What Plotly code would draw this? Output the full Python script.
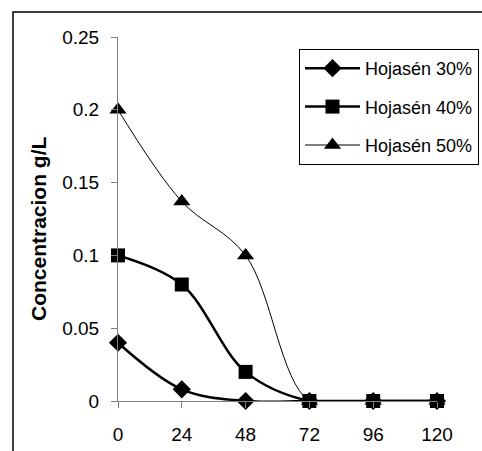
import plotly.graph_objects as go

hours = [0, 24, 48, 72, 96, 120]
hoj30 = [0.04, 0.008, 0.0, 0.0, 0.0, 0.0]
hoj40 = [0.1, 0.08, 0.02, 0.0, 0.0, 0.0]
hoj50 = [0.2, 0.137, 0.1, 0.0, 0.0, 0.0]
series_names = ["Hojasén 30%", "Hojasén 40%", "Hojasén 50%"]
x_ticks = [0, 24, 48, 72, 96, 120]
y_ticks = [0, 0.05, 0.1, 0.15, 0.2, 0.25]
y_title = "Concentracion g/L"

W, H = 482, 451
L, R, T, B = 118, 45, 37, 50
pw, ph = W - L - R, H - T - B

def px_x(x):
    return (x - L) / pw

def px_y(y):
    return (H - B - y) / ph

FONT = "Liberation Sans, Arial, sans-serif"

fig = go.Figure()
fig.add_trace(go.Scatter(x=hours, y=hoj30, name=series_names[0], mode="lines+markers",
                         line=dict(color="black", width=2.5, shape="spline", smoothing=1),
                         marker=dict(symbol="diamond", size=14, color="black"),
                         cliponaxis=False, legendgroup="a"))
fig.add_trace(go.Scatter(x=hours, y=hoj40, name=series_names[1], mode="lines+markers",
                         line=dict(color="black", width=2.5, shape="spline", smoothing=1),
                         marker=dict(symbol="square", size=14, color="black"),
                         cliponaxis=False, legendgroup="b"))
fig.add_trace(go.Scatter(x=hours, y=hoj50, name=series_names[2], mode="lines+markers",
                         line=dict(color="black", width=1, shape="spline", smoothing=1),
                         marker=dict(symbol="triangle-up", size=15, color="black"),
                         cliponaxis=False, legendgroup="c"))

fig.update_layout(
    width=W, height=H,
    margin=dict(l=L, r=R, t=T, b=B, autoexpand=False),
    paper_bgcolor="white", plot_bgcolor="white",
    font=dict(family=FONT, size=19, color="black"),
    showlegend=True,
    legend=dict(x=px_x(299), y=px_y(49), xanchor="left", yanchor="top",
                bordercolor="black", borderwidth=1, bgcolor="white",
                font=dict(size=18), tracegroupgap=12, itemwidth=55),
    xaxis=dict(range=[0, 120], tickvals=x_ticks, showline=True, linecolor="#808080",
               linewidth=1, ticks="outside", ticklen=6, tickcolor="#808080",
               showgrid=False, zeroline=False, ticklabelstandoff=10),
    yaxis=dict(range=[0, 0.25], tickvals=y_ticks, showline=True, linecolor="#808080",
               linewidth=1, ticks="outside", ticklen=6, tickcolor="#808080",
               showgrid=False, zeroline=False, ticklabelstandoff=8),
    shapes=[dict(type="rect", xref="paper", yref="paper",
                 x0=px_x(13), x1=px_x(495), y0=px_y(470), y1=px_y(12),
                 line=dict(color="black", width=1.5), layer="below")],
    annotations=[dict(text="<b>" + y_title + "</b>", xref="paper", yref="paper",
                      x=px_x(38), y=px_y(229), textangle=-90, showarrow=False,
                      font=dict(size=21), xanchor="center", yanchor="middle")],
)

fig.write_html("out.html")
